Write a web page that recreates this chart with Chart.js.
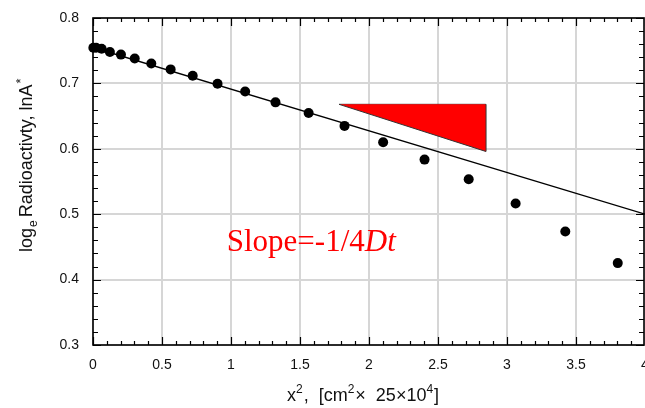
<!DOCTYPE html>
<html>
<head>
<meta charset="utf-8">
<script src="https://cdn.jsdelivr.net/npm/chart.js@4/dist/chart.umd.min.js"></script>
<style>
  html, body { margin: 0; padding: 0; background: #fff; overflow: hidden; }
  #wrap { width: 645px; height: 408px; position: relative; }
  canvas { display: block; }
</style>
</head>
<body>
<div id="wrap"><canvas id="myChart" width="645" height="408"></canvas></div>
<script>
// measured points: x^2 (cm^2 x 25x10^4) vs ln A*
const xVals = [0.0025, 0.0225, 0.0625, 0.1225, 0.2025, 0.3025, 0.4225, 0.5625, 0.7225, 0.9025,
               1.1025, 1.3225, 1.5625, 1.8225, 2.1025, 2.4025, 2.7225, 3.0625, 3.4225, 3.8025];
const yVals = [0.7545, 0.7545, 0.753, 0.748, 0.744, 0.738, 0.7305, 0.7214, 0.7118, 0.6996,
               0.6875, 0.671, 0.6547, 0.635, 0.610, 0.5835, 0.5534, 0.5163, 0.4736, 0.4252];
// straight line fit
const fitX = [0, 4];
const fitY = [0.755, 0.5];
// slope triangle
const triX = [1.783, 2.846];
const triTop = 0.668;
const triBottom = 0.596;
// axis ranges / ticks
const xMin = 0, xMax = 4, xStep = 0.5, xMinor = 0.1;
const yMin = 0.3, yMax = 0.8, yStep = 0.1, yMinor = 0.02;
const slopeText = { x: 0.969, y: 0.444 };

const FONT = "'Liberation Sans', Arial, sans-serif";

function toXY(xs, ys) {
    return xs.map((x, i) => ({ x: x, y: ys[i] }));
}

// frame, inward ticks, axis titles, slope label
const decor = {
    id: 'decor',
    afterDatasetsDraw(chart) {
        const { ctx, chartArea: a, scales } = chart;
        const sx = scales.x, sy = scales.y;
        ctx.save();
        ctx.strokeStyle = '#000';
        ctx.lineWidth = 1.2;
        ctx.beginPath();
        // x ticks (bottom + top)
        for (let v = xMin; v <= xMax + 1e-9; v += xMinor) {
            const major = Math.abs(v / xStep - Math.round(v / xStep)) < 1e-6;
            const len = major ? 8 : 4;
            const px = Math.round(sx.getPixelForValue(v)) + 0.5;
            ctx.moveTo(px, a.bottom); ctx.lineTo(px, a.bottom - len);
            ctx.moveTo(px, a.top); ctx.lineTo(px, a.top + len);
        }
        // y ticks (left + right)
        for (let v = yMin; v <= yMax + 1e-9; v += yMinor) {
            const major = Math.abs(v / yStep - Math.round(v / yStep)) < 1e-6;
            const len = major ? 8 : 5;
            const py = Math.round(sy.getPixelForValue(v)) + 0.5;
            ctx.moveTo(a.left, py); ctx.lineTo(a.left + len, py);
            ctx.moveTo(a.right - 1, py); ctx.lineTo(a.right - 1 - len, py);
        }
        ctx.stroke();
        ctx.lineWidth = 1.6;
        ctx.strokeRect(a.left, a.top, a.right - a.left - 1, a.bottom - a.top);

        // slope annotation
        ctx.fillStyle = '#ff0000';
        ctx.textBaseline = 'alphabetic';
        ctx.textAlign = 'left';
        let tx = sx.getPixelForValue(slopeText.x);
        const ty = sy.getPixelForValue(slopeText.y);
        ctx.font = "31px 'Liberation Serif', 'Times New Roman', serif";
        ctx.fillText('Slope=-1/4', tx, ty);
        tx += ctx.measureText('Slope=-1/4').width;
        ctx.font = "italic 31px 'Liberation Serif', 'Times New Roman', serif";
        ctx.fillText('Dt', tx, ty);

        // x axis title with superscripts
        ctx.fillStyle = '#111';
        const parts = [['x', 0], ['2', 1], [',  [cm', 0], ['2', 1], ['\u00d7  25\u00d710', 0], ['4', 1], [']', 0]];
        let px = 287;
        const base = 401;
        parts.forEach(p => {
            ctx.font = p[1] ? '12px ' + FONT : '18px ' + FONT;
            ctx.fillText(p[0], px, p[1] ? base - 8 : base);
            px += ctx.measureText(p[0]).width + (p[1] ? 1 : 0);
        });

        // y axis title, rotated
        ctx.save();
        ctx.translate(32, 252);
        ctx.rotate(-Math.PI / 2);
        let qx = 0;
        ctx.font = '18px ' + FONT;
        ctx.fillText('log', qx, 0);
        qx += ctx.measureText('log').width + 1;
        ctx.font = '12px ' + FONT;
        ctx.fillText('e', qx, 5);
        qx += ctx.measureText('e').width + 3;
        ctx.font = '18px ' + FONT;
        ctx.fillText('Radioactivty, lnA', qx, 0);
        qx += ctx.measureText('Radioactivty, lnA').width + 1;
        ctx.font = '13px ' + FONT;
        ctx.fillText('*', qx, -7);
        ctx.restore();

        ctx.restore();
    }
};

const ctx = document.getElementById('myChart');
new Chart(ctx, {
    type: 'line',
    data: {
        datasets: [
            {
                label: 'triangle',
                data: toXY(triX, [triTop, triBottom]),
                borderColor: '#333',
                borderWidth: 1,
                backgroundColor: '#ff0000',
                fill: { value: triTop },
                pointRadius: 0,
                tension: 0
            },
            {
                label: 'triangle edge',
                data: toXY([triX[0], triX[1], triX[1]], [triTop, triTop, triBottom]),
                borderColor: '#333',
                borderWidth: 1,
                fill: false,
                pointRadius: 0,
                tension: 0
            },
            {
                label: 'fit',
                data: toXY(fitX, fitY),
                borderColor: '#000',
                borderWidth: 1.4,
                fill: false,
                pointRadius: 0,
                tension: 0
            },
            {
                label: 'data',
                data: toXY(xVals, yVals),
                showLine: false,
                pointRadius: 5,
                pointBackgroundColor: '#000',
                pointBorderColor: '#000',
                pointBorderWidth: 0,
                clip: false
            }
        ]
    },
    options: {
        responsive: false,
        animation: false,
        devicePixelRatio: 1,
        layout: { padding: { left: 0, top: 18, right: 0, bottom: 0 }, autoPadding: false },
        plugins: { legend: { display: false }, tooltip: { enabled: false } },
        scales: {
            x: {
                type: 'linear',
                min: xMin, max: xMax,
                afterFit: s => { s.height = 63; s.paddingLeft = 0; s.paddingRight = 0; },
                grid: { color: '#d6d6d6', lineWidth: 2, drawTicks: false },
                border: { display: false },
                ticks: {
                    stepSize: xStep,
                    padding: 12,
                    color: '#111',
                    font: { family: FONT, size: 14 },
                    maxRotation: 0,
                    callback: v => String(v)
                }
            },
            y: {
                min: yMin, max: yMax,
                afterFit: s => { s.width = 93; s.paddingTop = 0; s.paddingBottom = 0; },
                grid: { color: '#d6d6d6', lineWidth: 2, drawTicks: false },
                border: { display: false },
                ticks: {
                    stepSize: yStep,
                    padding: 14,
                    color: '#111',
                    font: { family: FONT, size: 14 },
                    callback: v => v.toFixed(1)
                }
            }
        }
    },
    plugins: [decor]
});
</script>
</body>
</html>
